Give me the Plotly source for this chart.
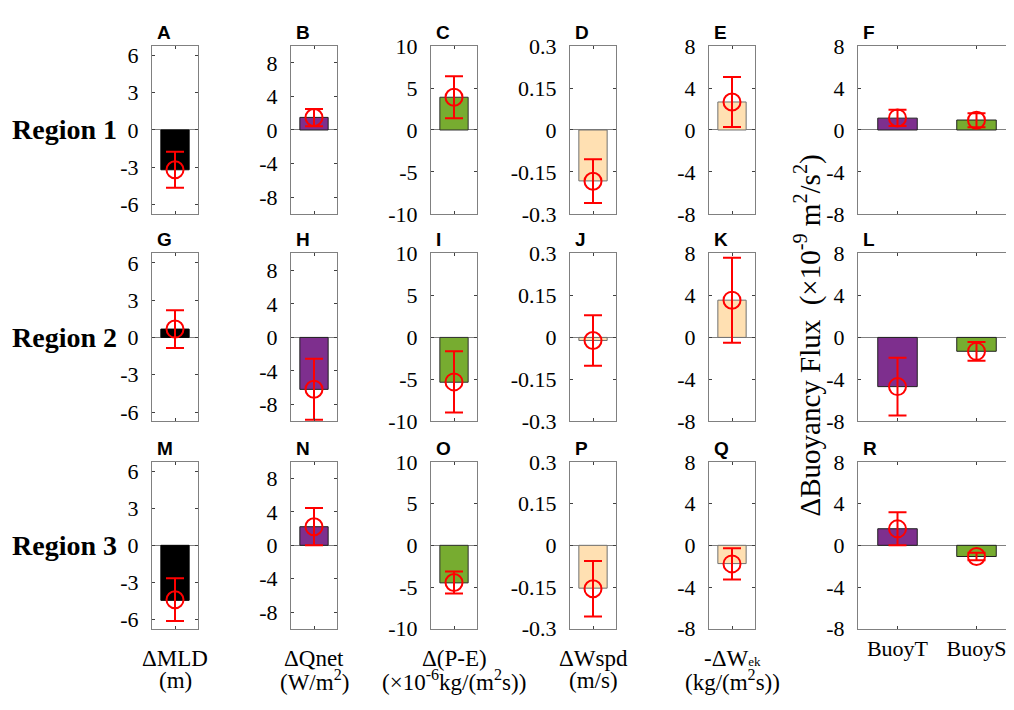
import plotly.graph_objects as go

# ---------------- data ----------------
regions = ["Region 1", "Region 2", "Region 3"]
panel_letters = [["A", "B", "C", "D", "E", "F"],
                 ["G", "H", "I", "J", "K", "L"],
                 ["M", "N", "O", "P", "Q", "R"]]

mld_bar = [-3.2, 0.67, -4.45]
mld_mean = [-3.2, 0.67, -4.4]
mld_err = [1.45, 1.52, 1.73]

qnet_bar = [1.5, -6.19, 2.23]
qnet_mean = [1.48, -6.17, 2.23]
qnet_err = [1.02, 3.63, 2.23]

pe_bar = [3.9, -5.34, -4.5]
pe_mean = [3.9, -5.3, -4.46]
pe_err = [2.5, 3.65, 1.31]

wspd_bar = [-0.182, -0.011, -0.154]
wspd_mean = [-0.183, -0.011, -0.156]
wspd_err = [0.078, 0.09, 0.1]

wek_bar = [2.67, 3.55, -1.75]
wek_mean = [2.67, 3.55, -1.78]
wek_err = [2.39, 4.05, 1.5]

buoy_labels = ["BuoyT", "BuoyS"]
buoyT_bar = [1.13, -4.69, 1.59]
buoyT_mean = [1.15, -4.69, 1.58]
buoyT_err = [0.78, 2.76, 1.58]
buoyS_bar = [0.95, -1.32, -1.07]
buoyS_mean = [0.93, -1.33, -1.07]
buoyS_err = [0.67, 0.9, 0.37]

y_limits = [6.75, 10, 10, 0.3, 8, 8]
y_ticks = [[-6, -3, 0, 3, 6], [-8, -4, 0, 4, 8], [-10, -5, 0, 5, 10],
           [-0.3, -0.15, 0, 0.15, 0.3], [-8, -4, 0, 4, 8], [-8, -4, 0, 4, 8]]
y_ticktext = [["-6", "-3", "0", "3", "6"], ["-8", "-4", "0", "4", "8"],
              ["-10", "-5", "0", "5", "10"], ["-0.3", "-0.15", "0", "0.15", "0.3"],
              ["-8", "-4", "0", "4", "8"], ["-8", "-4", "0", "4", "8"]]

bottom_line1 = ["ΔMLD", "ΔQnet", "Δ(P-E)", "ΔWspd",
                "-ΔW<span style='font-size:13px'>ek</span>"]
bottom_line2 = ["(m)", "(W/m<sup>2</sup>)", "(×10<sup>-6</sup>kg/(m<sup>2</sup>s))",
                "(m/s)", "(kg/(m<sup>2</sup>s))"]

# ---------------- styling ----------------
W, H = 1014, 710
col_px = [(144, 190), (283, 329), (423, 469), (562, 608), (701, 747), (850, 1008)]
row_px = [(27, 201), (242, 416), (458, 631)]

BLACK = "#000000"
PURPLE = "#7E2F8E"
GREEN = "#77AC30"
ORANGE = "#FFE0B2"
col_colors = [BLACK, PURPLE, GREEN, ORANGE, ORANGE]
edge_colors = ["#000000", "#202020", "#303030", "#707070", "#707070"]

series_bar = [mld_bar, qnet_bar, pe_bar, wspd_bar, wek_bar]
series_mean = [mld_mean, qnet_mean, pe_mean, wspd_mean, wek_mean]
series_err = [mld_err, qnet_err, pe_err, wspd_err, wek_err]

SERIF = "Liberation Serif, Times New Roman, serif"
SANS = "Liberation Sans, Arial, sans-serif"

fig = go.Figure()
layout = dict(width=W, height=H, margin=dict(l=0, r=0, t=0, b=0),
              paper_bgcolor="white", plot_bgcolor="white", showlegend=False)
annotations = []

err_style = dict(type="data", color="#FF0000", thickness=2, width=9, visible=True)
marker_style = dict(symbol="circle-open", size=17, color="#FF0000",
                    line=dict(color="#FF0000", width=2))

idx = 0
for r in range(3):
    for c in range(6):
        idx += 1
        xa = "x" if idx == 1 else f"x{idx}"
        ya = "y" if idx == 1 else f"y{idx}"
        xkey = "xaxis" if idx == 1 else f"xaxis{idx}"
        ykey = "yaxis" if idx == 1 else f"yaxis{idx}"
        x0, x1 = col_px[c]
        y0, y1 = row_px[r]
        xdom = [x0 / W, x1 / W]
        ydom = [1 - y1 / H, 1 - y0 / H]

        if c < 5:
            fig.add_trace(go.Bar(x=[1], y=[series_bar[c][r]], width=0.8,
                                 marker=dict(color=col_colors[c],
                                             line=dict(color=edge_colors[c], width=1)),
                                 xaxis=xa, yaxis=ya))
            fig.add_trace(go.Scatter(x=[1], y=[series_mean[c][r]], mode="markers",
                                     marker=marker_style,
                                     error_y=dict(array=[series_err[c][r]], **err_style),
                                     xaxis=xa, yaxis=ya))
            xrange = [0.35, 1.65]
            tickvals = [1]
            ticktext = [""]
            showx = False
        else:
            fig.add_trace(go.Bar(x=[1, 2], y=[buoyT_bar[r], buoyS_bar[r]], width=0.5,
                                 marker=dict(color=[PURPLE, GREEN],
                                             line=dict(color="#202020", width=1)),
                                 xaxis=xa, yaxis=ya))
            fig.add_trace(go.Scatter(x=[1, 2], y=[buoyT_mean[r], buoyS_mean[r]],
                                     mode="markers", marker=marker_style,
                                     error_y=dict(array=[buoyT_err[r], buoyS_err[r]],
                                                  **err_style),
                                     xaxis=xa, yaxis=ya))
            xrange = [0.5, 2.5]
            tickvals = [1, 2]
            ticktext = buoy_labels
            showx = (r == 2)

        layout[xkey] = dict(domain=xdom, anchor=ya, range=xrange, tickvals=tickvals,
                            ticktext=ticktext, showticklabels=showx,
                            ticks="inside", ticklen=3, tickcolor="#404040",
                            showline=True, linecolor="#808080", linewidth=1,
                            mirror="ticks", showgrid=False, zeroline=False,
                            fixedrange=True,
                            tickfont=dict(family=SERIF, size=22, color="black"))
        lim = y_limits[c]
        layout[ykey] = dict(domain=ydom, anchor=xa, range=[-lim, lim],
                            tickvals=y_ticks[c], ticktext=y_ticktext[c],
                            ticks="inside", ticklen=3, tickcolor="#404040",
                            showline=True, linecolor="#808080", linewidth=1,
                            mirror="ticks", showgrid=False, zeroline=True,
                            zerolinecolor="#808080", zerolinewidth=1,
                            ticklabelstandoff=8, fixedrange=True,
                            tickfont=dict(family=SERIF, size=22, color="black"))

        annotations.append(dict(text=f"<b>{panel_letters[r][c]}</b>", xref="paper",
                                yref="paper", x=(x0 + 3) / W, y=1 - (y0 - 14) / H,
                                xanchor="left", yanchor="middle", showarrow=False,
                                font=dict(family=SANS, size=19, color="black")))

# region labels
for r in range(3):
    y0, y1 = row_px[r]
    annotations.append(dict(text=f"<b>{regions[r]}</b>", xref="paper", yref="paper",
                            x=56 / W, y=1 - ((y0 + y1) / 2) / H,
                            xanchor="center", yanchor="middle", showarrow=False,
                            font=dict(family=SERIF, size=28, color="black")))

# bottom labels
for c in range(5):
    xc = (col_px[c][0] + col_px[c][1]) / 2
    annotations.append(dict(text=bottom_line1[c], xref="paper", yref="paper",
                            x=xc / W, y=1 - 662 / H, xanchor="center", yanchor="middle",
                            showarrow=False,
                            font=dict(family=SERIF, size=23, color="black")))
    annotations.append(dict(text=bottom_line2[c], xref="paper", yref="paper",
                            x=xc / W, y=1 - 685 / H, xanchor="center", yanchor="middle",
                            showarrow=False,
                            font=dict(family=SERIF, size=23, color="black")))

# rotated y label for buoyancy flux
annotations.append(dict(text="ΔBuoyancy Flux  (×10<sup>-9</sup> m<sup>2</sup>/s<sup>2</sup>)",
                        xref="paper", yref="paper", x=800 / W, y=1 - 327 / H,
                        xanchor="center", yanchor="middle", textangle=-90,
                        showarrow=False,
                        font=dict(family=SERIF, size=29, color="black")))

layout["annotations"] = annotations
fig.update_layout(**layout)
fig.write_html("out.html")
